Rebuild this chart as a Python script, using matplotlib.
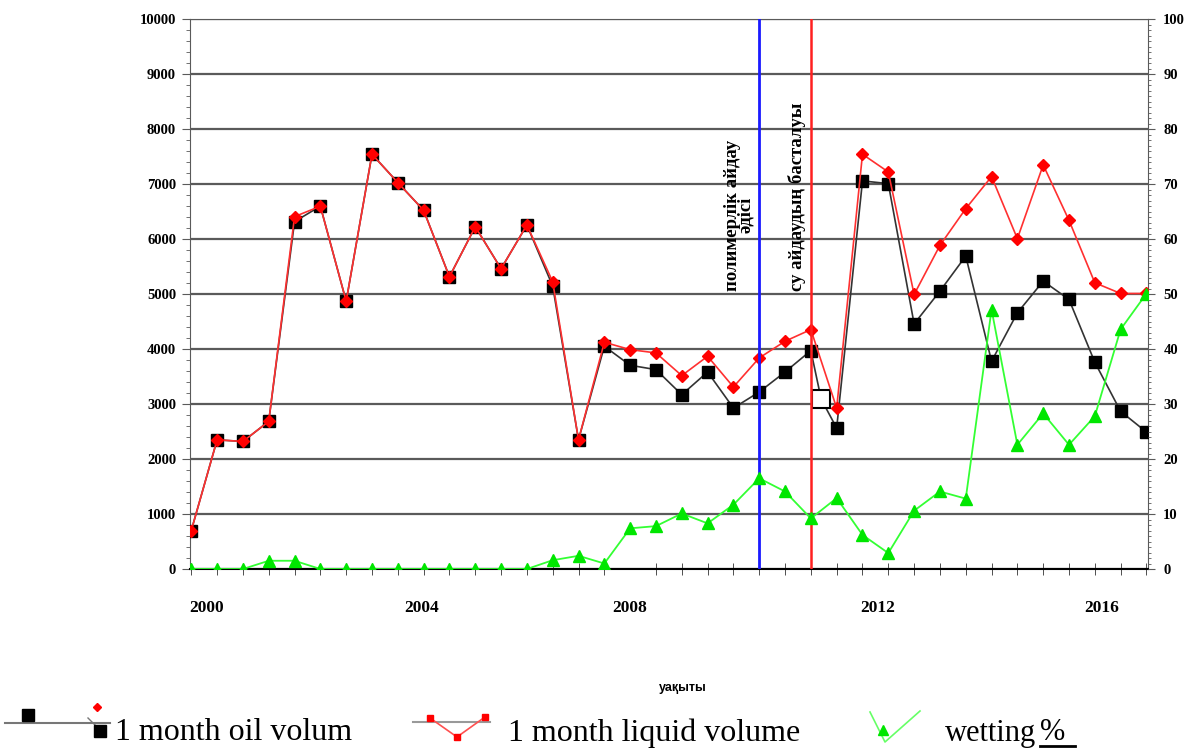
import numpy as np
import matplotlib
matplotlib.use('Agg')
import matplotlib.pyplot as plt
from matplotlib.lines import Line2D
from matplotlib.ticker import MultipleLocator

# half-year points, 2000 .. 2016
points = np.arange(38)
oil = [700, 2350, 2320, 2685, 6320, 6600, 4870, 7545, 7030, 6525, 5316, 6227, 5462,
       6258, 5146, 2351, 4052, 3706, 3627, 3171, 3584, 2928, 3220, 3584, 3973, 2564,
       7060, 7011, 4459, 5055, 5693, 3779, 4660, 5237, 4903, 3761, 2868, 2491]
liquid = [700, 2350, 2320, 2685, 6410, 6600, 4870, 7545, 7030, 6525, 5316, 6227, 5462,
          6258, 5225, 2351, 4125, 3991, 3931, 3518, 3870, 3311, 3840, 4143, 4356, 2928,
          7545, 7223, 4994, 5887, 6555, 7139, 6009, 7351, 6343, 5207, 5012, 5012]
wetting = [0, 0, 0, 1.5, 1.5, 0, 0, 0, 0, 0, 0, 0, 0, 0, 1.6, 2.4, 1.0, 7.4, 7.8, 10.1,
           8.3, 11.7, 16.5, 14.1, 9.2, 12.9, 6.2, 2.9, 10.6, 14.1, 12.8, 47.2, 22.6, 28.3,
           22.6, 27.8, 43.6, 50.1]
# odd extra point on the oil line (hollow square)
extra_x, extra_oil = 24.4, 3090
year_pos = [0.61, 8.94, 17.0, 26.6, 35.25]
year_labels = ['2000', '2004', '2008', '2012', '2016']
polymer_x = 22.0
water_x = 24.0

plt.rcParams['font.family'] = ['Liberation Serif', 'DejaVu Serif']

fig = plt.figure(figsize=(11.84, 7.51), dpi=100)
ax = fig.add_axes([190 / 1184, 1 - 569 / 751, 958 / 1184, (569 - 19.3) / 751])
ax.set_xlim(-0.05, 37.06)
ax.set_ylim(0, 10000)

ax.yaxis.set_major_locator(MultipleLocator(1000))
ax.yaxis.set_minor_locator(MultipleLocator(200))
ax.grid(axis='y', which='major', color='#5a5a5a', lw=1.6)
ax.set_axisbelow(True)
for s in ['left', 'top', 'right']:
    ax.spines[s].set_color('#5a5a5a')
ax.spines['bottom'].set_color('black')
ax.spines['bottom'].set_linewidth(1.5)
ax.tick_params(axis='y', which='major', length=6, color='#5a5a5a', pad=4)
ax.tick_params(axis='y', which='minor', length=3, color='#5a5a5a')
for lab in ax.get_yticklabels():
    lab.set_fontweight('bold')
    lab.set_fontsize(10.5)

ax.set_xticks(year_pos, year_labels)
ax.set_xticks(points, minor=True)
ax.tick_params(axis='x', which='major', length=0, pad=22, labelsize=12.5)
ax.tick_params(axis='x', which='minor', length=8, direction='inout', color='#333333')
for lab in ax.get_xticklabels():
    lab.set_fontweight('bold')

# oil line with the extra hollow point
ox = list(points[:25]) + [extra_x] + list(points[25:])
oy = oil[:25] + [extra_oil] + oil[25:]
ax.plot(ox, oy, color='#333333', lw=1.2, zorder=3)
ax.plot(points, oil, ls='none', marker='s', ms=8.5, color='black', zorder=4)
ax.plot([extra_x], [extra_oil], ls='none', marker='s', ms=13, mfc='white',
        mec='black', mew=1.5, zorder=4)
ax.plot(points, liquid, color='#ff3030', lw=1.2, marker='D', ms=6.5,
        mfc='red', mec='red', zorder=5)

ax.axvline(polymer_x, color='#1a1aff', lw=2, zorder=6)
ax.axvline(water_x, color='#ff2020', lw=1.8, zorder=6)
ax.text(21.22, 6440, 'полимерлік айдау\nәдісі', rotation=90, ha='center', va='center',
        fontsize=13.5, fontweight='bold', linespacing=0.75, multialignment='center')
ax.text(23.47, 6767, 'су айдаудың басталуы', rotation=90, ha='center', va='center',
        fontsize=13.5, fontweight='bold')

ax2 = ax.twinx()
ax2.set_ylim(0, 100)
ax2.yaxis.set_major_locator(MultipleLocator(10))
ax2.yaxis.set_minor_locator(MultipleLocator(1))
ax2.tick_params(axis='y', which='major', length=5, color='#5a5a5a', pad=6)
ax2.tick_params(axis='y', which='minor', length=2.5, color='#5a5a5a')
for s in ['left', 'top', 'right', 'bottom']:
    ax2.spines[s].set_visible(False)
ax2.plot(points, wetting, color='#33ff33', lw=1.3, marker='^', ms=8,
         mfc='#00e600', mec='#00e600', zorder=5)
for lab in ax2.get_yticklabels():
    lab.set_fontweight('bold')
    lab.set_fontsize(10.5)
ax.spines['right'].set_linestyle((0, (4, 1)))

fig.text(683 / 1184, 1 - 688 / 751, 'уақыты', ha='center', va='center',
         fontsize=9, fontweight='bold', family='Liberation Sans')

# hand-drawn legend
def fx(px):
    return px / 1184

def fy(py):
    return 1 - py / 751

fig.add_artist(Line2D([fx(5), fx(110)], [fy(723), fy(723)], color='#777777', lw=1.5))
fig.add_artist(Line2D([fx(28)], [fy(715)], marker='s', ms=8, color='black', ls='none'))
fig.add_artist(Line2D([fx(88), fx(100)], [fy(718), fy(730)], color='#777777', lw=1))
fig.add_artist(Line2D([fx(100)], [fy(731)], marker='s', ms=8, color='black', ls='none'))
fig.add_artist(Line2D([fx(97)], [fy(707)], marker='D', ms=4, color='red', ls='none'))
fig.text(fx(115), fy(733), '1 month oil volum', ha='left', va='center', fontsize=23)

fig.add_artist(Line2D([fx(413), fx(490)], [fy(722), fy(722)], color='#999999', lw=1.5))
fig.add_artist(Line2D([fx(430), fx(457), fx(485)], [fy(718), fy(737), fy(717)],
                      color='#ff5050', lw=1.2, marker='s', ms=5, mfc='red', mec='red'))
fig.text(fx(508), fy(733), '1 month liquid volume', ha='left', va='center', fontsize=23)

fig.add_artist(Line2D([fx(870), fx(885), fx(920)], [fy(712), fy(742), fy(711)],
                      color='#66ff66', lw=1.2))
fig.add_artist(Line2D([fx(883)], [fy(730)], marker='^', ms=7, color='#00e600', ls='none'))
fig.text(fx(945), fy(733), 'wetting', ha='left', va='center', fontsize=22)
fig.text(fx(1040), fy(733), '%', ha='left', va='center', fontsize=22)
fig.add_artist(Line2D([fx(1040), fx(1075)], [fy(746), fy(746)], color='black', lw=2))

fig.savefig('out.png', dpi=100)
